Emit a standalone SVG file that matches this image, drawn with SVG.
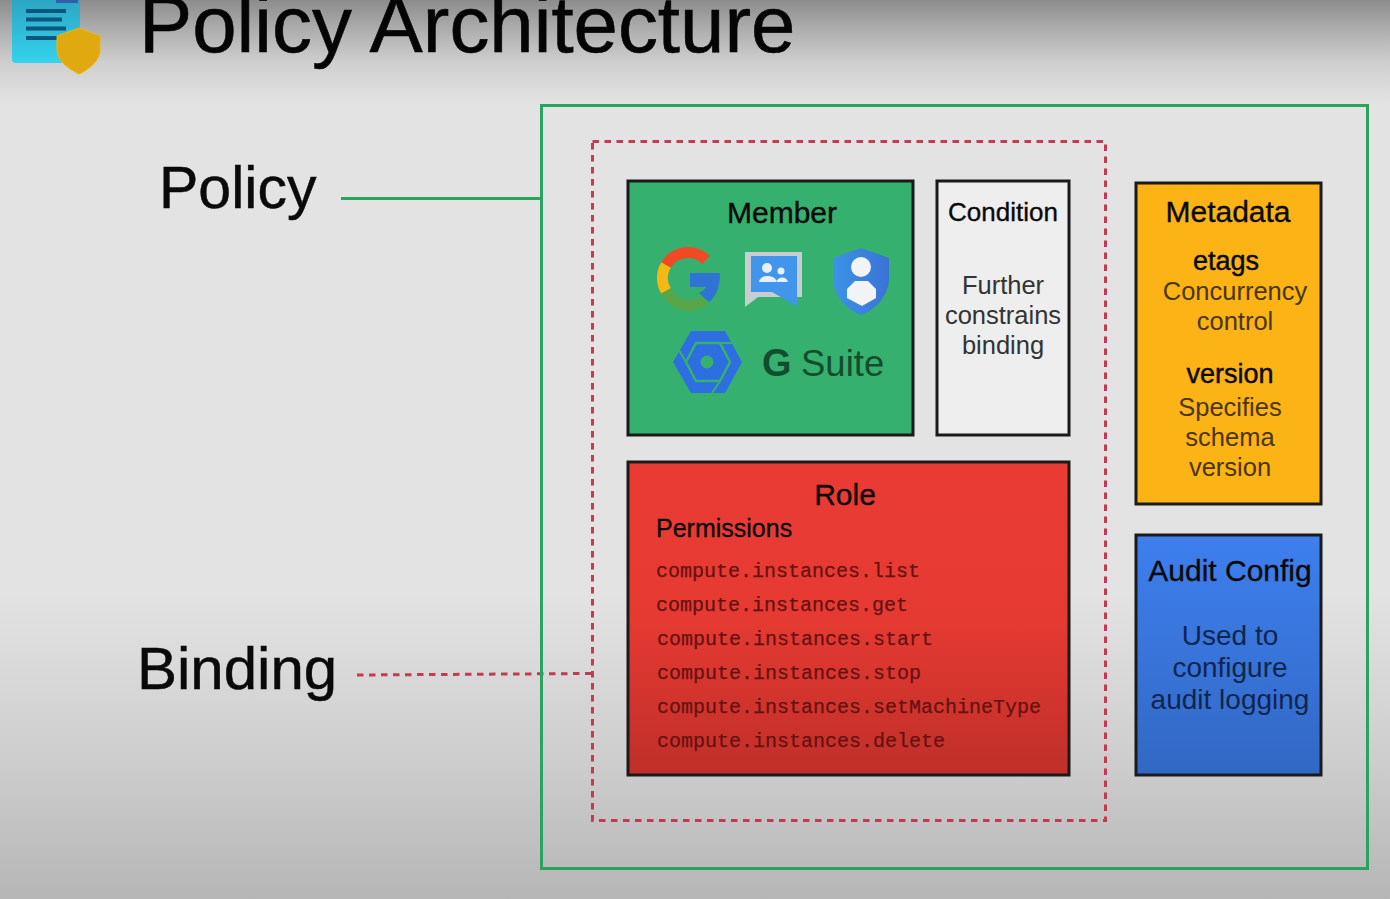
<svg xmlns="http://www.w3.org/2000/svg" width="1390" height="899" viewBox="0 0 1390 899">
<defs>
<style>
text{font-family:"Liberation Sans",Arial,sans-serif;fill:#0a0a0a}
.m{text-anchor:middle}
.h{font-size:30px;stroke:#0a0a0a;stroke-width:.35px}
.b{font-size:25.500px}
.s{font-size:27px;stroke:#0a0a0a;stroke-width:.45px}
.big{font-size:59px;stroke:#0a0a0a;stroke-width:.5px}
.mono{font-family:"Liberation Mono","Courier New",monospace;font-size:20px;fill:#661210;stroke:#661210;stroke-width:.25px}
.box{stroke:#1a1a1a;stroke-width:3}
.au{font-size:28px;fill:#10264d}
.am{fill:#4a3608}
.co{fill:#333}
.dash{fill:none;stroke:#c63a50;stroke-width:3;stroke-dasharray:6.500 5.500}
</style>
<linearGradient id="bg" x1="0" y1="0" x2="0" y2="1">
<stop offset="0" stop-color="#8c8c8c"/><stop offset=".03" stop-color="#ababab"/><stop offset=".07" stop-color="#cfcfcf"/><stop offset=".115" stop-color="#e3e3e3"/><stop offset=".66" stop-color="#e3e3e3"/><stop offset=".85" stop-color="#cdcdcd"/><stop offset="1" stop-color="#b6b6b6"/>
</linearGradient>
<linearGradient id="red" x1="0" y1="0" x2="0" y2="1"><stop offset="0" stop-color="#e93b33"/><stop offset=".5" stop-color="#e53a32"/><stop offset="1" stop-color="#bf2f29"/></linearGradient>
<linearGradient id="blue" x1="0" y1="0" x2="0" y2="1"><stop offset="0" stop-color="#3e7fee"/><stop offset="1" stop-color="#3268c4"/></linearGradient>
<linearGradient id="doc" x1="0" y1="0" x2="0" y2="1"><stop offset="0" stop-color="#2a9fbe"/><stop offset="1" stop-color="#35d2ee"/></linearGradient>
<linearGradient id="sh" x1="0" y1="0" x2="1" y2="0"><stop offset="0" stop-color="#3b93e6"/><stop offset="1" stop-color="#3a73d6"/></linearGradient>
</defs>
<rect width="1390" height="899" fill="url(#bg)"/>
<g id="logo">
<rect x="12" y="-10" width="68" height="73" rx="4" fill="url(#doc)"/>
<rect x="56" y="0" width="22" height="3" fill="#2f5fa8"/>
<path d="M26 11H66M26 19.500H62M26 28.500H66M26 38H60" stroke="#0d567e" stroke-width="4" fill="none"/>
<path d="M79 28 L100 36 V50 C100 60 90 69 79 74 C68 69 57 60 57 50 V36 Z" fill="#dfa90f" stroke="#edb80f" stroke-width="1"/>
</g>
<text id="title" x="139" y="51.500" font-size="79.800" style="fill:#050505;stroke:#050505;stroke-width:.6px">Policy Architecture</text>
<g id="connectors" fill="none">
<path d="M341 198.500H541" stroke="#2aa35e" stroke-width="3"/>
<path class="dash" d="M357 675L592 673.500"/>
</g>
<g id="policy">
<rect x="541.500" y="105.500" width="826" height="763" fill="none" stroke="#2aa35e" stroke-width="3"/>
<text class="big" x="159" y="208">Policy</text>
</g>
<g id="binding">
<rect class="dash" x="592.500" y="141.500" width="513" height="679"/>
<text class="big" x="137" y="689" style="font-size:60px">Binding</text>
</g>
<g id="member">
<rect class="box" x="628" y="181" width="285" height="254" fill="#36b06e"/>
<text class="m h" x="782" y="223">Member</text>
<g fill="none" stroke-width="11">
<path d="M666 265A25.500 25.500 0 0 1 706 260" stroke="#ef4a24"/>
<path d="M666 265A25.500 25.500 0 0 0 666 291" stroke="#f6b813"/>
<path d="M666 291A26 26 0 0 0 705 300" stroke="#58a648"/>
</g>
<path d="M690 273H720C720 287 716 297 709 302L699 293C703 291 705 289 706 287H690Z" fill="#2f73d4"/>
<path d="M745 252H802V297H758L745 307Z" fill="#c7cdd0"/>
<path d="M751 256H797V298L798 307L772 292H751Z" fill="#4195ea"/>
<circle cx="767" cy="268" r="5" fill="#e8f1fb"/><circle cx="781" cy="271" r="3.500" fill="#e8f1fb"/>
<path d="M759 282C760 274 775 274 777 282ZM776 282H788C787 276 778 276 776 282Z" fill="#e8f1fb"/>
<path d="M861 248L889 258V278C889 296 875 310 861 315C847 310 833 296 833 278V258Z" fill="url(#sh)"/>
<circle cx="861" cy="267" r="10" fill="#f2f3f5"/>
<path d="M855 281H868L876 289V298L862 306L847 298V289Z" fill="#f2f3f5"/>
<path d="M691 331H725L742 362L725 393H691L673 362Z" fill="#2d6fe0"/>
<path d="M696 343H720L730 362L720 381H696L686 362Z" fill="none" stroke="#36b06e" stroke-width="2.500"/>
<path d="M708 343H732M686 362L676 345M720 381L712 393" fill="none" stroke="#36b06e" stroke-width="2"/>
<circle cx="707" cy="362" r="10" fill="#36b06e" stroke="#2d6fe0" stroke-width="7"/>
<text x="762" y="376" font-size="38" style="fill:#124d2e;font-weight:bold">G</text>
<text x="801" y="376" font-size="36.500" style="fill:#124d2e">Suite</text>
</g>
<g id="condition">
<rect class="box" x="937" y="181" width="132" height="254" fill="#eeeeee"/>
<text class="m" x="1003" y="221" font-size="26" style="stroke:#0a0a0a;stroke-width:.35px">Condition</text>
<text class="m b co" x="1003" y="294">Further</text>
<text class="m b co" x="1003" y="324">constrains</text>
<text class="m b co" x="1003" y="354">binding</text>
</g>
<g id="metadata">
<rect class="box" x="1136" y="183" width="185" height="321" fill="#fcb316"/>
<text class="m h" x="1228" y="222">Metadata</text>
<text class="m s" x="1226" y="270">etags</text>
<text class="m b am" x="1235" y="300">Concurrency</text>
<text class="m b am" x="1235" y="330">control</text>
<text class="m s" x="1230" y="383">version</text>
<text class="m b am" x="1230" y="416">Specifies</text>
<text class="m b am" x="1230" y="446">schema</text>
<text class="m b am" x="1230" y="476">version</text>
</g>
<g id="role">
<rect class="box" x="628" y="462" width="441" height="313" fill="url(#red)"/>
<text class="m h" x="845" y="505">Role</text>
<text x="656" y="537" font-size="25" style="stroke:#0a0a0a;stroke-width:.3px">Permissions</text>
<text class="mono" x="656" y="577">compute.instances.list</text>
<text class="mono" x="656" y="611">compute.instances.get</text>
<text class="mono" x="657" y="645">compute.instances.start</text>
<text class="mono" x="657" y="679">compute.instances.stop</text>
<text class="mono" x="657" y="713">compute.instances.setMachineType</text>
<text class="mono" x="657" y="747">compute.instances.delete</text>
</g>
<g id="audit">
<rect class="box" x="1136" y="535" width="185" height="240" fill="url(#blue)"/>
<text class="m h" x="1230" y="581">Audit Config</text>
<text class="m au" x="1230" y="645">Used to</text>
<text class="m au" x="1230" y="677">configure</text>
<text class="m au" x="1230" y="709">audit logging</text>
</g>
</svg>
